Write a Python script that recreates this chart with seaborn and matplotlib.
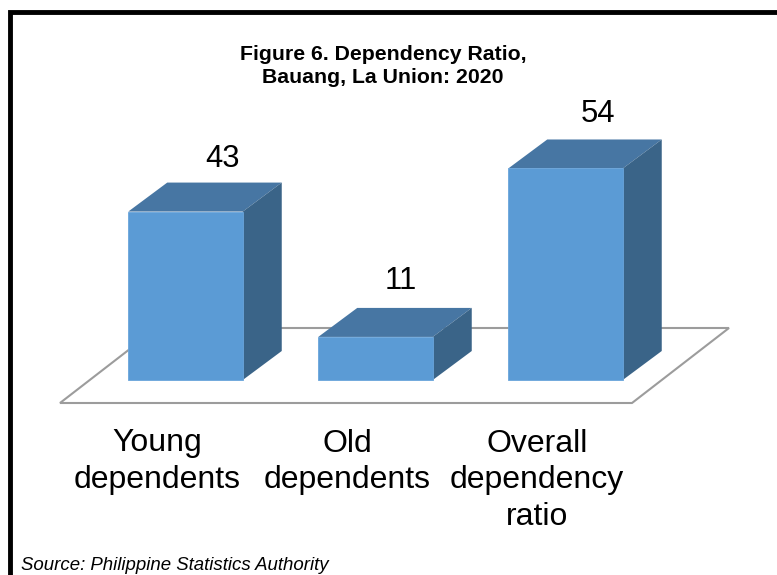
"""
plot.py

Dependency ratio chart drawn as 3D looking bars on a floor.
"""

import matplotlib
matplotlib.use("Agg")

import matplotlib.pyplot as plt
import seaborn as sns

from matplotlib.patches import Polygon, Rectangle

############################################################
# Data
############################################################

categories = ["Young\ndependents", "Old\ndependents", "Overall\ndependency\nratio"]
values = [43, 11, 54]

title_text = "Figure 6. Dependency Ratio,\nBauang, La Union: 2020"
source_text = "Source: Philippine Statistics Authority"

############################################################
# Layout (pixels of the 777x575 picture)
############################################################

W, H = 777, 575
PX_PER_CAT = 190.0
PX_PER_UNIT = 3.917
X0_PX = 185.5
Y0_PX = 380.0

DEPTH_X = 39 / PX_PER_CAT
DEPTH_Y = 29 / PX_PER_UNIT

# value labels do not sit at the same offset over each bar
LABEL_DX = [37, 25, 32]
LABEL_DY = [53, 56, 54]

FRONT = "#5B9BD5"
TOP = "#4776A3"
SIDE = "#3A6488"
FLOOR = "#9C9C9C"


def px(x):
    return (x - X0_PX) / PX_PER_CAT


def py(y):
    return (Y0_PX - y) / PX_PER_UNIT


############################################################
# Plot
############################################################

sns.set_theme(style="white")
plt.rcParams["font.family"] = ["Liberation Sans", "DejaVu Sans"]

fig = plt.figure(figsize=(W / 100, H / 100), dpi=100, facecolor="white")
ax = fig.add_axes([0, 0, 1, 1])

sns.barplot(x=categories, y=values, color=FRONT, saturation=1, width=114.5 / PX_PER_CAT, ax=ax, zorder=5)

ax.set_xlim(px(0), px(W))
ax.set_ylim(py(H), py(0))
ax.axis("off")

# floor
floor = Polygon(
    [(px(60), py(403)), (px(632), py(403)), (px(729), py(328)), (px(157), py(328))],
    closed=True, facecolor="white", edgecolor=FLOOR, linewidth=1.5, zorder=1,
)
ax.add_patch(floor)

# top and side faces, taken from the bars seaborn drew
for i, bar in enumerate(ax.patches[:len(values)]):
    bar.set_edgecolor("#6AA5DB")
    bar.set_linewidth(0.6)
    x0 = bar.get_x()
    x1 = x0 + bar.get_width()
    h = bar.get_height()

    ax.add_patch(Polygon(
        [(x0, h), (x1, h), (x1 + DEPTH_X, h + DEPTH_Y), (x0 + DEPTH_X, h + DEPTH_Y)],
        closed=True, facecolor=TOP, edgecolor="none", zorder=4,
    ))
    ax.add_patch(Polygon(
        [(x1, 0), (x1 + DEPTH_X, DEPTH_Y), (x1 + DEPTH_X, h + DEPTH_Y), (x1, h)],
        closed=True, facecolor=SIDE, edgecolor="none", zorder=4,
    ))

    # value label
    ax.text(
        i + LABEL_DX[i] / PX_PER_CAT, h + LABEL_DY[i] / PX_PER_UNIT, f"{h:.0f}",
        ha="center", va="center", fontsize=22.3, color="black", zorder=6,
    )

# category labels
for i, label in enumerate(categories):
    ax.text(
        i - 28.5 / PX_PER_CAT, py(428.5), label,
        ha="center", va="top", fontsize=23, color="black", linespacing=1.3, zorder=6,
    )

# title and source
ax.text(px(383), py(66), title_text, ha="center", va="center", fontsize=15.3,
        fontweight="bold", color="black", linespacing=1.28, zorder=6)
ax.text(px(21), py(565), source_text, ha="left", va="center", fontsize=13.45,
        fontstyle="italic", color="black", zorder=6)

# frame runs off the right and bottom of the picture
ax.add_patch(Rectangle(
    (px(10.4), py(H + 20)), (W + 30) / PX_PER_CAT, (H + 8) / PX_PER_UNIT,
    facecolor="none", edgecolor="black", linewidth=3.5, zorder=7, clip_on=True,
))

plt.savefig("out.png", dpi=100)
plt.close()
